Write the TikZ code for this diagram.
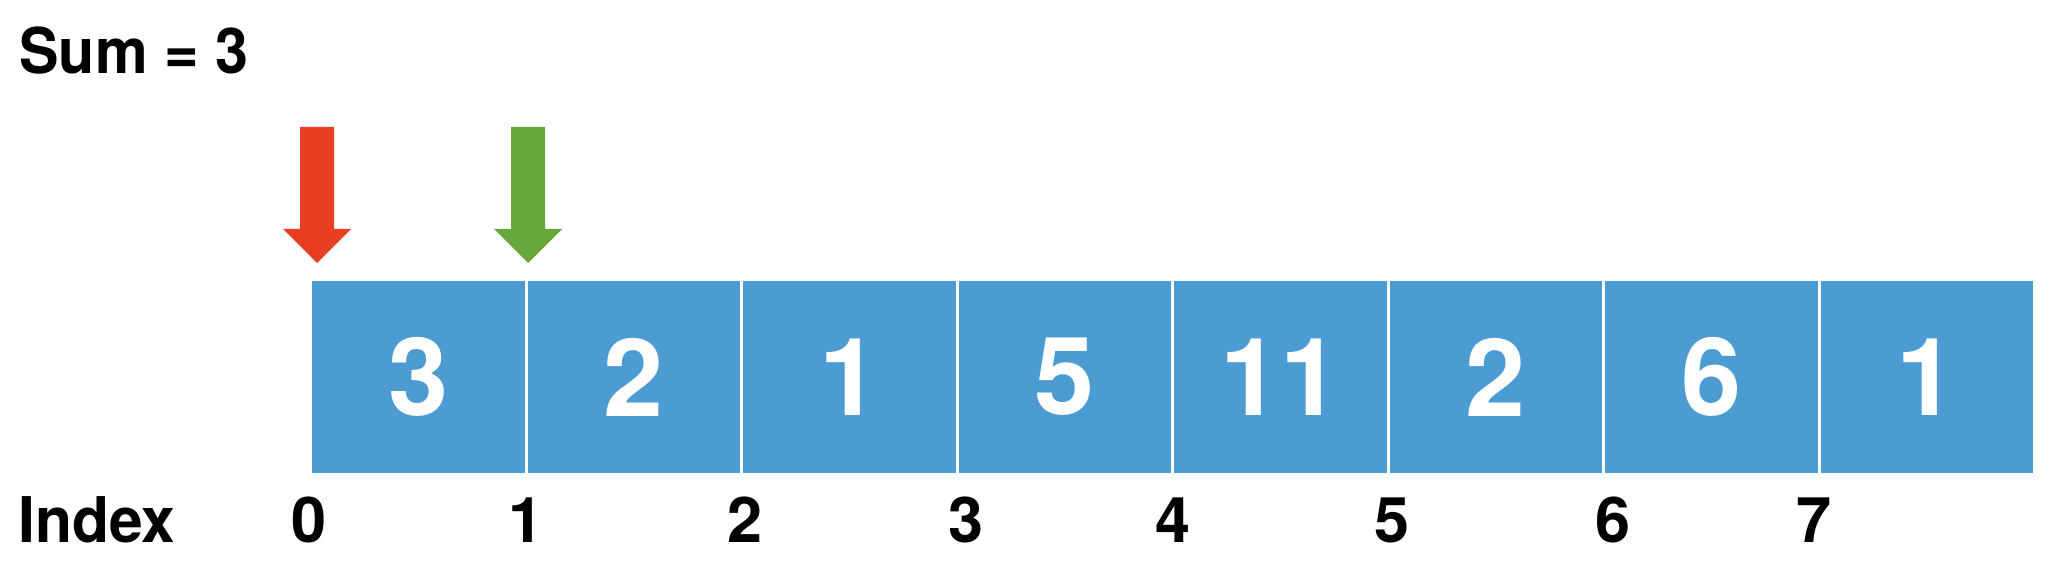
\documentclass[tikz,border=0pt]{standalone}
\usepackage{fontspec}
\setmainfont{TeX Gyre Heros}
\definecolor{cellblue}{RGB}{77,155,211}
\definecolor{ptrred}{RGB}{232,62,34}
\definecolor{ptrgreen}{RGB}{103,166,59}
\begin{document}
\begin{tikzpicture}[x=0.5pt,y=-0.5pt,
  cell/.style={draw=white, line width=1.5pt, fill=cellblue, minimum width=107.75pt,
    minimum height=97.5pt, inner sep=0pt, text=white,
    font=\fontsize{54pt}{60pt}\selectfont\bfseries},
  idx/.style={anchor=base, inner sep=0pt, font=\fontsize{31.5pt}{37pt}\selectfont\bfseries},
  lbl/.style={anchor=base west, inner sep=0pt, font=\fontsize{31.5pt}{37pt}\selectfont\bfseries},
  pointer/.pic={\fill (-17,-136) -- (17,-136) -- (17,-34) -- (34,-34) -- (0,0)
    -- (-34,-34) -- (-17,-34) -- cycle;}
  ]
\useasboundingbox (0,0) rectangle (2062,582);
\node[lbl] (sum) at (19,74) {\scalebox{0.94}[1]{Sum = 3}};
% cells
\node[cell] (c0) at (418.25,377) {3};
\node[cell] (c1) at (633.75,377) {2};
\node[cell] (c2) at (849.25,377) {1};
\node[cell] (c3) at (1064.75,377) {5};
\node[cell] (c4) at (1280.25,377) {11};
\node[cell] (c5) at (1495.75,377) {2};
\node[cell] (c6) at (1711.25,377) {6};
\node[cell] (c7) at (1926.75,377) {1};
% index row
\node[lbl] (index) at (18,543) {\scalebox{0.96}[1]{Index}};
\node[idx] (i0) at (309,543) {0};
\node[idx] (i1) at (526,543) {1};
\node[idx] (i2) at (745,543) {2};
\node[idx] (i3) at (966,543) {3};
\node[idx] (i4) at (1173,543) {4};
\node[idx] (i5) at (1392,543) {5};
\node[idx] (i6) at (1613,543) {6};
\node[idx] (i7) at (1814,543) {7};
% pointers
\coordinate (redptr) at (317,263);
\coordinate (greenptr) at (528,263);
\pic[fill=ptrred] at (redptr) {pointer};
\pic[fill=ptrgreen] at (greenptr) {pointer};
\end{tikzpicture}
\end{document}
